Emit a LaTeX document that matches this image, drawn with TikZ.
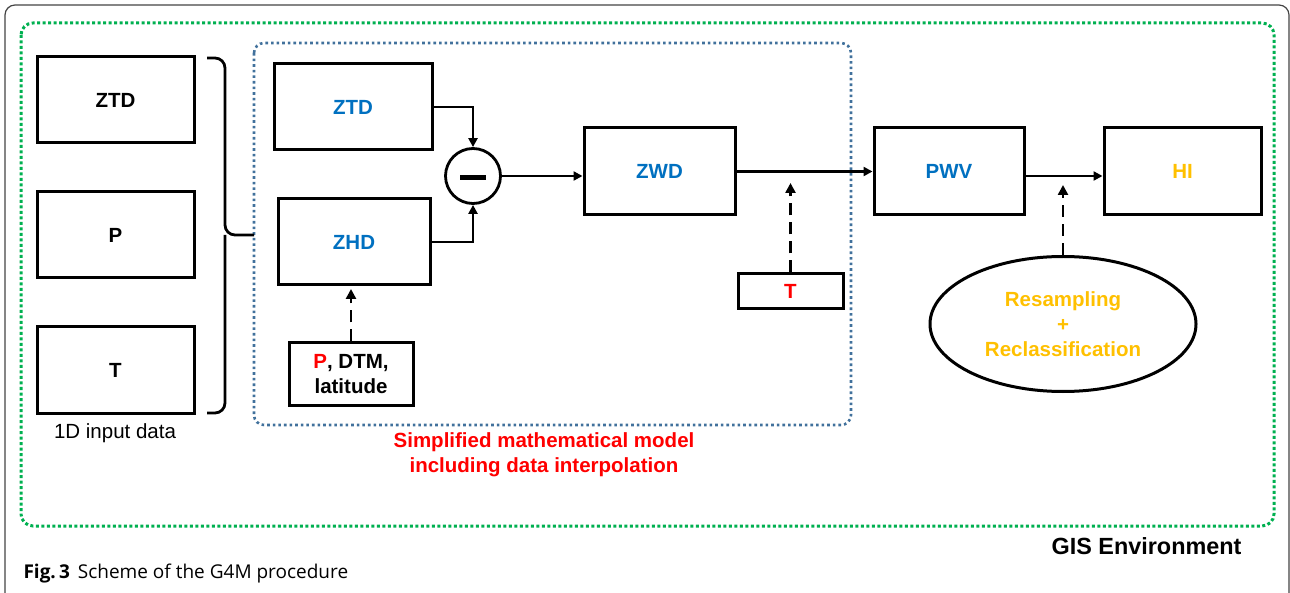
\documentclass[tikz,border=0pt]{standalone}
\usepackage{fontspec}
\setmainfont{Liberation Sans}
\newfontfamily\capfont{Open Sans}
\usetikzlibrary{arrows.meta,shapes.geometric,calc}
\definecolor{blueT}{HTML}{0070C0}
\definecolor{orangeT}{HTML}{FFC000}
\definecolor{redT}{HTML}{FF0000}
\definecolor{greenD}{HTML}{00B050}
\definecolor{blueD}{HTML}{41719C}
\definecolor{frameC}{HTML}{444444}
\begin{document}
\begin{tikzpicture}[x=1pt,y=-1pt,
  lbl/.style={font=\fontsize{20.5}{25}\selectfont\bfseries, align=center},
  box/.style={draw, line width=3pt, inner sep=0pt, lbl},
  arr/.style={line width=2.4pt, -{Triangle[length=9pt,width=9pt]}},
  darr/.style={line width=2.8pt, dash pattern=on 12pt off 7pt, -{Triangle[length=10pt,width=10pt]}},
  greenzone/.style={draw=greenD, line width=3pt, dash pattern=on 3pt off 2.5pt, rounded corners=12pt},
  bluezone/.style={draw=blueD, line width=2.6pt, dash pattern=on 2.6pt off 3pt, rounded corners=10pt},
  brace/.style={line width=2.8pt, rounded corners=10pt}
]
\useasboundingbox (0,0) rectangle (1290,593);

% outer figure frame, open at the bottom
\draw[frameC, line width=1.2pt, rounded corners=10pt]
  (5,600) -- (5,5) -- (1289,5) -- (1289,600);

% GIS environment and model zones
\draw[greenzone] (21,23) rectangle (1274,526);
\draw[bluezone] (254,43) rectangle (851,425);

% 1D input data
\node[box, minimum width=157pt, minimum height=86pt] (ztdin) at (115.5,100) {ZTD};
\node[box, minimum width=157pt, minimum height=86pt] (pin) at (115.5,235) {P};
\node[box, minimum width=157pt, minimum height=86pt] (tin) at (115.5,370) {T};
\node[font=\fontsize{20.5}{25}\selectfont] (inlabel) at (115,433) {1D input data};

% brace gathering the inputs
\coordinate (btop) at (207,58);
\coordinate (bbot) at (207,413);
\coordinate (btip) at (254,235);
\draw[brace] (btop) -- (225,58) -- (225,235) -- (btip);
\draw[brace] (bbot) -- (225,413) -- (225,235);

% model
\node[box, text=blueT, minimum width=158pt, minimum height=86pt] (ztd) at (353,107) {ZTD};
\node[box, text=blueT, minimum width=152pt, minimum height=86pt] (zhd) at (354,242) {ZHD};
\node[draw, circle, line width=2.8pt, minimum size=55pt, inner sep=0pt] (minus) at (473,176) {};
\draw[line width=5pt] ($(minus.center)+(-13,2)$) -- ($(minus.center)+(13,2)$);
\node[box, minimum width=124pt, minimum height=62pt] (pdtm) at (351,374)
  {\textcolor{redT}{P}, DTM,\\latitude};
\node[box, text=blueT, minimum width=151pt, minimum height=87pt] (zwd) at (659.5,171.5) {ZWD};
\node[box, text=redT, minimum width=105pt, minimum height=35pt] (tred) at (790.5,291.5) {T};

\node[lbl, text=redT] (modellabel) at (544,455) {Simplified mathematical model\\including data interpolation};

% products
\node[box, text=blueT, minimum width=150pt, minimum height=87pt] (pwv) at (949,171.5) {PWV};
\node[box, text=orangeT, minimum width=157pt, minimum height=87pt] (hi) at (1182.5,171.5) {HI};
\node[draw, ellipse, line width=3pt, text=orangeT, lbl, minimum width=266pt, minimum height=135pt, inner sep=0pt] (resamp) at (1063,324)
  {Resampling\\+\\Reclassification};

% connectors
\draw[arr] (ztd.east) -| (minus.north);
\draw[arr] (zhd.east) -| (minus.south);
\draw[arr] (minus.east) -- (minus.east -| zwd.west);
\draw[arr] (zwd.east) -- (pwv.west);
\draw[arr] ([yshift=-4.5pt]pwv.east) -- ([yshift=-4.5pt]hi.west);

\coordinate (pdtmtip) at (351,289);
\coordinate (ttip) at (790.5,183);
\coordinate (rtip) at (1063,185);
\draw[darr] (pdtm.north) -- (pdtmtip);
\draw[darr] (tred.north) -- (ttip);
\draw[darr] (resamp.north) -- (rtip);

\node[font=\fontsize{23.4}{28}\selectfont\bfseries, anchor=east] (gis) at (1245,546) {GIS Environment};

\node[font=\capfont\fontsize{19}{22}\selectfont, anchor=west] (caption) at (20,574)
  {\textbf{Fig.\,3}\hspace{8pt}Scheme of the G4M procedure};
\end{tikzpicture}
\end{document}
